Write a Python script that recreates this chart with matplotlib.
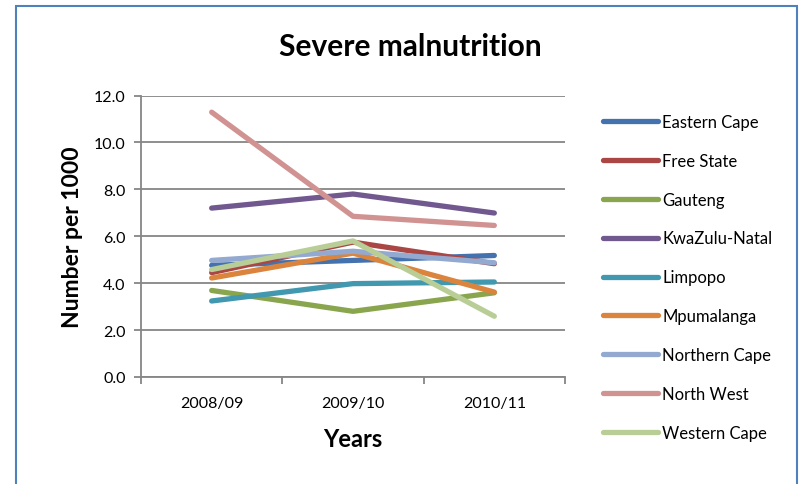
import matplotlib.pyplot as plt
from matplotlib.patches import Rectangle

plt.rcParams['font.family'] = ['Lato', 'DejaVu Sans']

years = ['2008/09', '2009/10', '2010/11']

eastern_cape = [4.76, 4.97, 5.18]
free_state = [4.45, 5.75, 4.83]
gauteng = [3.69, 2.80, 3.59]
kwazulu_natal = [7.20, 7.80, 6.99]
limpopo = [3.24, 3.98, 4.05]
mpumalanga = [4.22, 5.28, 3.62]
northern_cape = [4.97, 5.36, 4.87]
north_west = [11.29, 6.85, 6.46]
western_cape = [4.58, 5.80, 2.59]

series = [
    ('Eastern Cape', eastern_cape, '#4372AE'),
    ('Free State', free_state, '#AA4643'),
    ('Gauteng', gauteng, '#89A54E'),
    ('KwaZulu-Natal', kwazulu_natal, '#71588F'),
    ('Limpopo', limpopo, '#4198AF'),
    ('Mpumalanga', mpumalanga, '#DB843D'),
    ('Northern Cape', northern_cape, '#93A9CF'),
    ('North West', north_west, '#D19392'),
    ('Western Cape', western_cape, '#B9CD96'),
]

fig = plt.figure(figsize=(8.07, 4.85), dpi=100)
ax = fig.add_axes([141 / 807, 1 - 378 / 485, 424 / 807, 281.5 / 485])

x = range(len(years))
for name, vals, color in series:
    ax.plot(x, vals, color=color, lw=3.8, solid_capstyle='round',
            solid_joinstyle='round', label=name)

grid_c = '#868686'
ax.set_ylim(0, 12)
ax.set_yticks(range(0, 13, 2))
ax.set_yticklabels([f'{v:.1f}' for v in range(0, 13, 2)], fontsize=11.5)
ax.set_xlim(-0.5, 2.5)
ax.set_xticks([-0.5, 0.5, 1.5, 2.5])
ax.set_xticklabels([])
ax.set_xticks(list(x), minor=True)
ax.set_xticklabels(years, minor=True, fontsize=11.5)
ax.tick_params(axis='x', which='minor', length=0, pad=14)
ax.tick_params(axis='x', which='major', direction='out', length=5,
               color=grid_c, width=1.3)
ax.tick_params(axis='y', direction='out', length=5, color=grid_c,
               width=1.3, pad=6)
ax.yaxis.grid(True, color=grid_c, lw=1.3)
ax.set_axisbelow(True)
for s in ['top', 'right']:
    ax.spines[s].set_visible(False)
for s in ['left', 'bottom']:
    ax.spines[s].set_color(grid_c)
    ax.spines[s].set_linewidth(1.3)

ax.set_xlabel('Years', fontsize=17, fontweight='bold', labelpad=12)
ax.set_ylabel('Number per 1000', fontsize=16.5, fontweight='bold', labelpad=8)
fig.text(410 / 807, 1 - 47 / 485, 'Severe malnutrition', fontsize=21.5,
         fontweight='bold', ha='center', va='center')

ax.legend(loc='upper left', bbox_to_anchor=(603 / 807, 1 - 115 / 485),
          bbox_transform=fig.transFigure, frameon=False, fontsize=12,
          handlelength=3.3, handletextpad=0.25, labelspacing=1.37,
          borderpad=0, borderaxespad=0)

fig.patches.append(Rectangle((16 / 807, -0.05), (797 - 16) / 807, 1.05 - 7 / 485,
                             transform=fig.transFigure, fill=False,
                             edgecolor='#4F81BD', lw=1.5))

fig.savefig('out.png', dpi=100)
